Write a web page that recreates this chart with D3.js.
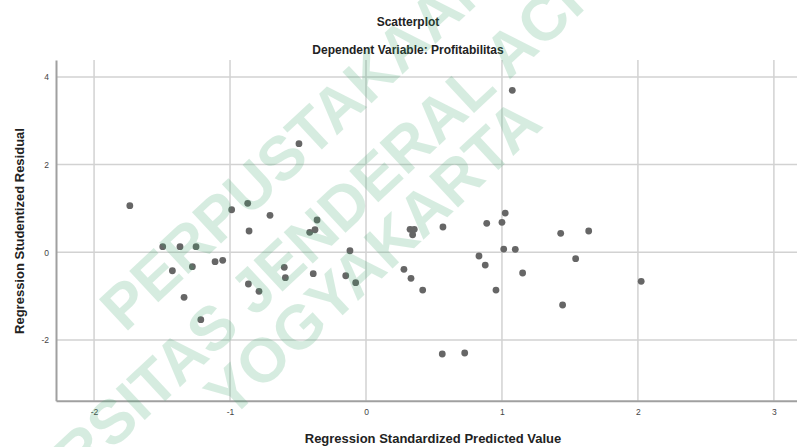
<!DOCTYPE html>
<html>
<head>
<meta charset="utf-8">
<script src="https://cdn.jsdelivr.net/npm/d3@7"></script>
<style>
    body { margin: 0; background: #fff; }
    svg { display: block; font-family: "Liberation Sans", Arial, sans-serif; }
</style>
</head>
<body>
<div id="chart"></div>
<script>
// values
var predicted = [-1.737, -0.988, -0.870, -0.706, -0.860, -1.495, -1.368, -1.250, -1.110, -1.054,
    -1.424, -1.277, -0.865, -0.787, -1.338, -1.215, -0.360, -0.375, -0.414, -0.118,
    -0.601, -0.593, -0.388, -0.149, -0.076, 0.324, 0.355, 0.343, 0.566, 0.279,
    0.331, 0.417, 1.024, 0.888, 1.000, 1.432, 1.638, 1.013, 1.098, 0.831,
    0.877, 1.542, 1.152, 2.024, 0.956, 1.446, 1.076, -0.493, 0.561, 0.726];
var residual = [1.063, 0.971, 1.117, 0.844, 0.486, 0.128, 0.128, 0.128, -0.214, -0.182,
    -0.420, -0.328, -0.723, -0.889, -1.026, -1.537, 0.737, 0.515, 0.456, 0.036,
    -0.342, -0.579, -0.488, -0.534, -0.693, 0.525, 0.525, 0.401, 0.577, -0.388,
    -0.593, -0.860, 0.896, 0.661, 0.684, 0.433, 0.486, 0.075, 0.068, -0.084,
    -0.290, -0.146, -0.472, -0.661, -0.860, -1.202, 3.694, 2.477, -2.319, -2.296];
var xTicks = [-2, -1, 0, 1, 2, 3];
var yTicks = [-2, 0, 2, 4];
var watermark = ["PERPUSTAKAAN", "UNIVERSITAS JENDERAL ACHMAD YANI", "YOGYAKARTA"];

var width = 797;
var height = 447;
var svg = d3.select("#chart").append("svg")
    .attr("width", width)
    .attr("height", height);

var x = d3.scaleLinear().domain([-2.28, 3.17]).range([56, 797]);
var y = d3.scaleLinear().domain([-3.384, 4.386]).range([400.7, 60]);

// grid
svg.append("g").selectAll("line")
    .data(xTicks)
    .enter().append("line")
    .attr("x1", d => x(d)).attr("x2", d => x(d))
    .attr("y1", y.range()[1]).attr("y2", y.range()[0])
    .attr("stroke", "#d2d2d2").attr("stroke-width", 1.5);
svg.append("g").selectAll("line")
    .data(yTicks)
    .enter().append("line")
    .attr("x1", x.range()[0]).attr("x2", x.range()[1])
    .attr("y1", d => y(d)).attr("y2", d => y(d))
    .attr("stroke", "#d2d2d2").attr("stroke-width", 1.5);

// axes
var xAxis = svg.append("g")
    .attr("transform", `translate(0,${y.range()[0]})`)
    .call(d3.axisBottom(x).tickValues(xTicks).tickFormat(d => String(d)).tickSize(0).tickPadding(8));
var yAxis = svg.append("g")
    .attr("transform", `translate(${x.range()[0]},0)`)
    .call(d3.axisLeft(y).tickValues(yTicks).tickFormat(d => String(d)).tickSize(0).tickPadding(7));
[xAxis, yAxis].forEach(function(a) {
    a.select(".domain").attr("stroke", "#a0a0a0").attr("stroke-width", 2);
    a.selectAll("text")
        .attr("fill", "#444")
        .style("font-size", "8.5px")
        .style("font-family", "Liberation Sans, Arial, sans-serif");
});

// points
svg.append("g").selectAll("circle")
    .data(predicted)
    .enter().append("circle")
    .attr("cx", d => x(d))
    .attr("cy", (d, i) => y(residual[i]))
    .attr("r", 3.4)
    .attr("fill", "#666");

// titles
function title(tx, ty, size, label, transform) {
    svg.append("text")
        .attr("x", tx).attr("y", ty)
        .attr("transform", transform || null)
        .attr("text-anchor", "middle")
        .style("font-size", size).style("font-weight", "bold")
        .attr("fill", "#222")
        .text(label);
}
title(408, 26, "12px", "Scatterplot");
title(408, 54, "12px", "Dependent Variable: Profitabilitas");
title(433, 443, "13px", "Regression Standardized Predicted Value");
title(0, 0, "13px", "Regression Studentized Residual", "translate(24,231) rotate(-90)");

// library watermark, faint, on top; each line is placed so that one of its
// letters sits where it is in the picture
var angle = -43;
var rad = angle * Math.PI / 180;
var along = [Math.cos(rad), Math.sin(rad)];
var across = [-Math.sin(rad), Math.cos(rad)];
var anchors = [[0, 125, 303], [12, 252, 290], [0, 230, 390]];
var wm = svg.append("g")
    .attr("transform", `rotate(${angle})`)
    .attr("fill", "#3aa56a")
    .attr("opacity", 0.2)
    .style("font-size", "62px")
    .style("font-weight", "bold");
wm.selectAll("text")
    .data(watermark)
    .enter().append("text")
    .attr("x", 0).attr("y", 0)
    .text(d => d)
    .each(function(d, i) {
        var a = anchors[i];
        var u = a[1] * along[0] + a[2] * along[1];
        var v = a[1] * across[0] + a[2] * across[1];
        var before = a[0] > 0 ? this.getSubStringLength(0, a[0]) : 0;
        var half = this.getSubStringLength(a[0], 1) / 2;
        d3.select(this)
            .attr("x", u - before - half)
            .attr("y", v + 22);
    });
</script>
</body>
</html>
